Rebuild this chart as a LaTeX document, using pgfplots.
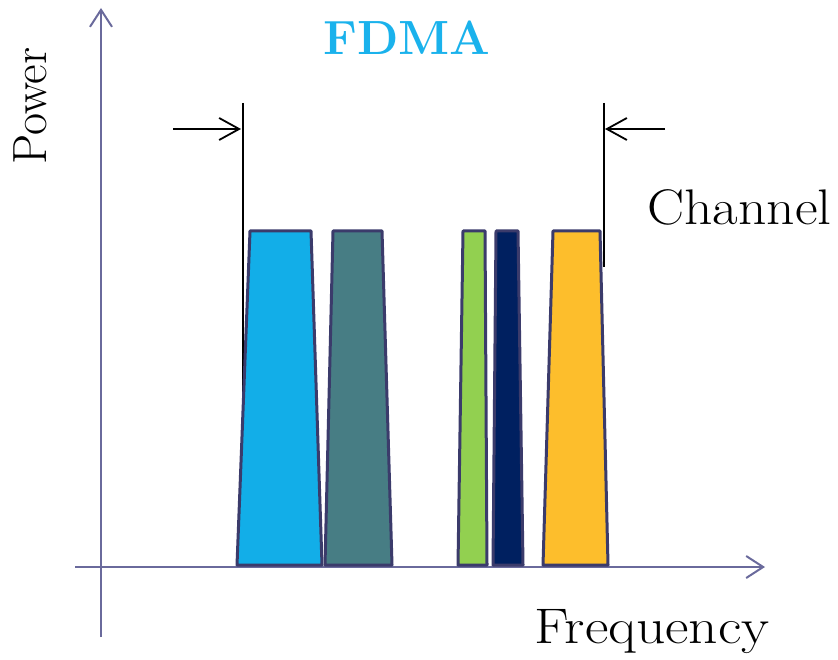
\documentclass[border=0pt]{standalone}
\usepackage{pgfplots}
\pgfplotsset{compat=1.18}
\usetikzlibrary{arrows.meta}
\definecolor{cBlue}{HTML}{12AEE8}
\definecolor{cTeal}{HTML}{477D84}
\definecolor{cGreen}{HTML}{92D050}
\definecolor{cNavy}{HTML}{002060}
\definecolor{cYellow}{HTML}{FDBE2C}
\definecolor{cEdge}{HTML}{3B3B6B}
\definecolor{cAxis}{HTML}{6A6A9C}
\definecolor{cTitle}{HTML}{1AB2EC}
\begin{document}
\begin{tikzpicture}
\begin{axis}[
  scale only axis, width=419pt, height=329.5pt,
  xmin=0, xmax=838, ymin=0, ymax=659,
  hide axis, clip=false,
]
% invisible frame for bounding box
\addplot[draw=none, forget plot] coordinates {(0,0) (838,659)};
% axes
\addplot[cAxis, line width=1pt, -{Straight Barb[length=8.5pt,width=11pt]}] coordinates {(101,22) (101,651)};
\addplot[cAxis, line width=1pt, -{Straight Barb[length=8.5pt,width=11pt]}] coordinates {(75,92) (765,92)};
% channel boundaries
\addplot[black, line width=0.9pt] coordinates {(243,556) (243,94)};
\addplot[black, line width=0.9pt] coordinates {(604,556) (604,392)};
\addplot[black, line width=0.9pt, -{Straight Barb[length=10pt,width=11pt]}] coordinates {(173,530) (241,530)};
\addplot[black, line width=0.9pt, -{Straight Barb[length=10pt,width=11pt]}] coordinates {(665,530) (605,530)};
% carriers
\addplot[fill=cBlue, draw=cEdge, line width=1.5pt, line join=round] coordinates {(237,94) (250,428) (311,428) (322,94)} -- cycle;
\addplot[fill=cTeal, draw=cEdge, line width=1.5pt, line join=round] coordinates {(325,94) (333,428) (382,428) (392,94)} -- cycle;
\addplot[fill=cGreen, draw=cEdge, line width=1.5pt, line join=round] coordinates {(458,94) (463,428) (485,428) (487,94)} -- cycle;
\addplot[fill=cNavy, draw=cEdge, line width=1.5pt, line join=round] coordinates {(493,94) (496,428) (518,428) (523,94)} -- cycle;
\addplot[fill=cYellow, draw=cEdge, line width=1.5pt, line join=round] coordinates {(543,94) (553,428) (600,428) (608,94)} -- cycle;
% texts
\node[anchor=base, inner sep=0pt, text=cTitle, font=\fontsize{24}{28}\selectfont\bfseries] at (axis cs:407,604) {FDMA};
\node[anchor=base west, inner sep=0pt, xscale=1.11, font=\fontsize{25}{30}\selectfont] at (axis cs:647,434) {Channel};
\node[anchor=base west, inner sep=0pt, xscale=1.15, font=\fontsize{25}{30}\selectfont] at (axis cs:534,16) {Frequency};
\node[anchor=base west, rotate=90, inner sep=0pt, font=\fontsize{24}{28}\selectfont] at (axis cs:46,494) {Power};
\end{axis}
\end{tikzpicture}
\end{document}
